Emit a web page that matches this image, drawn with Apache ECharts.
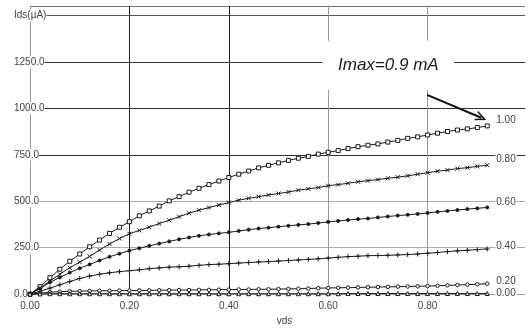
<!DOCTYPE html>
<html><head><meta charset="utf-8">
<script src="https://cdn.jsdelivr.net/npm/echarts@6/dist/echarts.min.js"></script>
<style>html,body{margin:0;padding:0;background:#fff}#c{width:528px;height:331px}</style>
</head><body><div id="c"></div>
<script>
// ---- data ----
const vds = [0,0.02,0.04,0.06,0.08,0.10,0.12,0.14,0.16,0.18,0.20,0.22,0.24,0.26,0.28,0.30,0.32,0.34,0.36,0.38,0.40,0.42,0.44,0.46,0.48,0.50,0.52,0.54,0.56,0.58,0.60,0.62,0.64,0.66,0.68,0.70,0.72,0.74,0.76,0.78,0.80,0.82,0.84,0.86,0.88,0.90,0.92];
const vgsNames = ['1.00','0.80','0.60','0.40','0.20','0.00'];
const ids_vgs100 = [0,40,88,134,177,216,255,291,327,360,390,422,448,474,502,525,549,570,590,609,628,646,663,680,694,707,720,732,742,754,764,773,784,794,802,809,819,828,839,847,857,867,876,884,890,897,906];
const ids_vgs080 = [0,32,70,107,142,172,203,237,270,299,325,343,361,380,398,417,436,452,466,480,493,506,516,525,534,542,550,560,567,574,584,590,597,605,611,617,624,630,637,646,654,662,668,676,681,688,694];
const ids_vgs060 = [0,30,63,90,116,139,160,181,201,218,234,247,260,272,284,295,305,314,321,327,333,340,347,353,358,363,368,373,377,383,389,394,399,404,407,413,418,423,427,432,437,443,448,453,458,462,467];
const ids_vgs040 = [0,15,32,50,68,84,97,107,115,121,126,131,137,141,145,147,150,155,159,161,164,167,170,173,175,178,181,184,187,190,194,198,202,204,207,208,209,211,213,216,220,224,229,233,236,240,243];
const ids_vgs020 = [0,5,10,13,15,16,17,18,18,19,19,20,20,21,21,22,22,23,23,24,24,25,25,26,26,27,28,29,30,32,33,34,35,36,37,38,39,40,41,42,43,45,47,49,51,53,56];
const ids_vgs000 = [0,1,2,2,2,2,2,2,2,2,2,2,2,2,2,2,2,2,2,2,2,2,2,2,2,2,2,2,2,2,2,2,3,3,3,3,3,3,3,3,3,3,3,3,3,3,3];
const seriesValues = [ids_vgs100, ids_vgs080, ids_vgs060, ids_vgs040, ids_vgs020, ids_vgs000];
const xTicks = [0, 0.2, 0.4, 0.6, 0.8];
const yTicks = [0, 250, 500, 750, 1000, 1250, 1500];
const yAxisTitle = 'Ids(µA)';
const xAxisTitle = 'vds';
const annotationText = 'Imax=0.9 mA';
const annotationAt = [0.721, 1232];
const arrowFrom = [0.799, 1073];
const arrowTo = [0.908, 950];

// ---- styles ----
const ink = '#1a1a1a';
const font = 'Liberation Sans';
const markerStyles = [
  {symbol:'rect', size:4, fill:'#fff'},
  {symbol:'path://M0,0L10,10M10,0L0,10', size:4, fill:'#fff'},
  {symbol:'circle', size:3, fill:ink},
  {symbol:'path://M5,0L5,10M0,5L10,5', size:5, fill:'#fff'},
  {symbol:'circle', size:3.5, fill:'#fff'},
  {symbol:'triangle', size:4, fill:'#fff'}
];
const endLabelOffsets = [-6,-6,-5,-3,-2,0];

const isTick = (v, arr) => arr.some(t => Math.abs(t - v) < 1e-6);

const series = seriesValues.map((vals, i) => {
  const s = {
    name: vgsNames[i],
    type: 'line',
    data: vds.map((x, k) => [x, vals[k]]),
    xAxisIndex: 0, yAxisIndex: 0,
    symbol: markerStyles[i].symbol,
    symbolSize: markerStyles[i].size,
    showSymbol: true,
    showAllSymbol: true,
    clip: false,
    lineStyle: {color: ink, width: 1},
    itemStyle: {color: markerStyles[i].fill, borderColor: ink, borderWidth: 1},
    emphasis: {disabled: true},
    endLabel: {
      show: true, formatter: vgsNames[i], distance: 8,
      offset: [0, endLabelOffsets[i]],
      fontSize: 10, fontFamily: font, color: '#444',
      backgroundColor: '#fff', padding: [0, 1]
    }
  };
  if (i === 0) {
    s.markPoint = {
      symbol: 'rect', symbolSize: [132, 49], silent: true,
      itemStyle: {color: '#fff', borderWidth: 0},
      label: {show: true, position: 'inside', formatter: annotationText,
        fontStyle: 'italic', fontSize: 17, color: ink, fontFamily: font},
      data: [{coord: annotationAt}]
    };
    s.markLine = {
      silent: true, animation: false,
      symbol: ['none', 'path://M5,0L10,10L8.3,10L5,3.4L1.7,10L0,10Z'],
      symbolSize: [10, 11],
      label: {show: false},
      lineStyle: {color: '#111', width: 2, type: 'solid'},
      data: [[{coord: arrowFrom}, {coord: arrowTo}]]
    };
  }
  return s;
});

const chart = echarts.init(document.getElementById('c'), null, {renderer: 'canvas'});
chart.setOption({
  animation: false,
  backgroundColor: '#fff',
  grid: {left: 30, right: 0, top: 6, bottom: 27, containLabel: false},
  xAxis: [{
    type: 'value', min: 0, max: 0.996, interval: 0.2,
    axisLine: {show: true, lineStyle: {color: '#999'}},
    axisTick: {show: false},
    axisLabel: {margin: 7, fontSize: 10, fontFamily: font, color: '#444',
      formatter: v => isTick(v, xTicks) ? v.toFixed(2) : ''},
    splitLine: {show: true, lineStyle: {width: 1,
      color: ['#999', '#222', '#222', '#999', '#999', 'rgba(0,0,0,0)']}},
    name: xAxisTitle, nameLocation: 'middle', nameGap: 15,
    nameTextStyle: {fontSize: 10, fontFamily: font, color: '#444', padding: [0, 0, 0, 14]}
  }],
  yAxis: [{
    type: 'value', min: 0, max: 1552, interval: 250, z: 3,
    axisLine: {show: true, lineStyle: {color: '#999'}},
    axisTick: {show: false},
    axisLabel: {align: 'left', margin: 16, fontSize: 10, fontFamily: font, color: '#444',
      backgroundColor: '#fff', padding: [1, 0],
      formatter: v => v === 1500 ? yAxisTitle : (isTick(v, yTicks) ? v.toFixed(1) : '')},
    splitLine: {show: false}
  }, {
    type: 'value', min: 0, max: 1552, interval: 250, z: 0,
    axisLine: {show: false}, axisTick: {show: false}, axisLabel: {show: false},
    splitLine: {show: true, lineStyle: {width: 1,
      color: ['#999', '#aaa', '#aaa', '#333', '#333', '#333', '#555', '#777']}}
  }],
  series: series
});
</script>
</body></html>
